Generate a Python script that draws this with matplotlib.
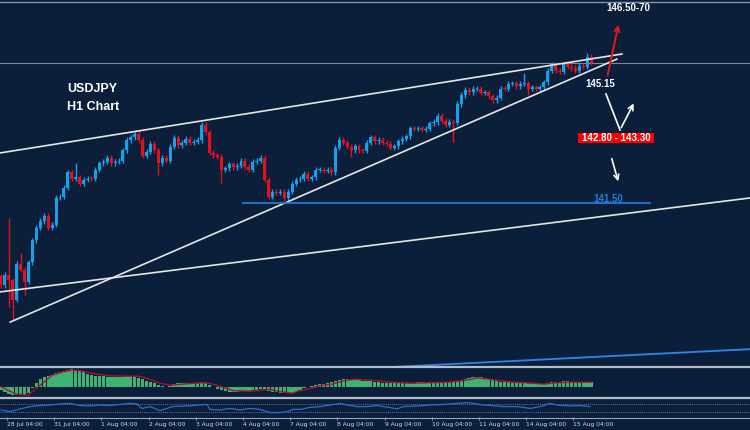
import matplotlib
matplotlib.use('Agg')
import matplotlib.pyplot as plt
from matplotlib.lines import Line2D
from matplotlib.patches import Rectangle, FancyArrowPatch
import numpy as np

# ---------------- data ----------------
day_labels = ['28 Jul 04:00', '31 Jul 04:00', '1 Aug 04:00', '2 Aug 04:00', '3 Aug 04:00',
              '4 Aug 04:00', '7 Aug 04:00', '8 Aug 04:00', '9 Aug 04:00', '10 Aug 04:00',
              '11 Aug 04:00', '14 Aug 04:00', '15 Aug 04:00']

first_open = 139.47
closes = [
    139.22, 139.50, 139.36, 138.81, 139.81, 139.64, 139.31, 139.86, 140.47, 140.81,
    141.00, 141.14, 140.81, 140.89, 141.64, 141.69, 141.92, 142.36, 142.19, 142.22,
    142.03, 142.14, 142.19, 142.17, 142.42, 142.61, 142.64, 142.75, 142.61, 142.64,
    142.69, 142.97, 143.25, 143.33, 143.42, 143.25, 142.81, 142.92, 143.14, 142.97,
    142.61, 142.75, 142.69, 143.06, 143.31, 143.11, 143.19, 143.28, 143.17, 143.20,
    143.25, 143.69, 143.47, 142.89, 142.83, 142.78, 142.42, 142.47, 142.58, 142.50,
    142.53, 142.69, 142.50, 142.44, 142.64, 142.69, 142.75, 142.14, 141.69, 141.81,
    141.78, 141.81, 141.64, 141.81, 142.03, 142.14, 142.19, 142.31, 142.19, 142.22,
    142.42, 142.44, 142.39, 142.42, 142.36, 143.03, 143.25, 143.19, 143.06, 142.97,
    143.08, 142.97, 142.95, 143.17, 143.33, 143.22, 143.25, 143.19, 143.14, 143.03,
    143.08, 143.22, 143.28, 143.36, 143.58, 143.56, 143.58, 143.53, 143.56, 143.72,
    143.75, 143.94, 143.78, 143.69, 143.75, 143.73, 144.25, 144.50, 144.64, 144.58,
    144.67, 144.69, 144.56, 144.58, 144.47, 144.36, 144.42, 144.69, 144.67, 144.81,
    144.83, 144.75, 144.81, 144.83, 144.69, 144.72, 144.69, 144.72, 144.86, 145.19,
    145.36, 145.19, 145.14, 145.36, 145.28, 145.25, 145.19, 145.31, 145.28, 145.56,
    145.39]

spike_hi_idx = [2, 5, 19, 51, 111, 133, 149]
spike_hi = [141.08, 140.11, 142.61, 143.75, 144.00, 145.11, 145.67]
spike_lo_idx = [2, 3, 6, 40, 56, 72, 89, 115, 134, 137]
spike_lo = [138.61, 138.25, 138.94, 142.28, 142.06, 141.56, 142.78, 143.19, 144.50, 144.58]

macd_hist = [
    -0.06, -0.10, -0.14, -0.17, -0.17, -0.17, -0.16, -0.12, -0.02, 0.08,
    0.15, 0.19, 0.22, 0.24, 0.27, 0.29, 0.31, 0.34, 0.35, 0.34,
    0.32, 0.29, 0.26, 0.24, 0.22, 0.21, 0.21, 0.20, 0.20, 0.20,
    0.20, 0.20, 0.21, 0.21, 0.20, 0.18, 0.15, 0.12, 0.10, 0.07,
    0.03, 0.01, -0.01, 0.02, 0.05, 0.07, 0.08, 0.08, 0.08, 0.08,
    0.08, 0.09, 0.08, 0.03, -0.01, -0.04, -0.07, -0.09, -0.10, -0.10,
    -0.10, -0.09, -0.09, -0.08, -0.07, -0.06, -0.04, -0.06, -0.09, -0.10,
    -0.11, -0.12, -0.13, -0.13, -0.12, -0.10, -0.06, -0.03, -0.01, 0.02,
    0.04, 0.05, 0.06, 0.08, 0.09, 0.11, 0.14, 0.15, 0.15, 0.14,
    0.14, 0.13, 0.12, 0.11, 0.11, 0.10, 0.09, 0.08, 0.08, 0.07,
    0.07, 0.07, 0.07, 0.07, 0.08, 0.08, 0.09, 0.09, 0.08, 0.08,
    0.09, 0.09, 0.09, 0.09, 0.10, 0.10, 0.12, 0.13, 0.15, 0.17,
    0.19, 0.20, 0.19, 0.17, 0.15, 0.13, 0.12, 0.10, 0.09, 0.09,
    0.08, 0.08, 0.08, 0.08, 0.07, 0.07, 0.06, 0.05, 0.06, 0.08,
    0.10, 0.10, 0.10, 0.11, 0.11, 0.10, 0.10, 0.10, 0.09, 0.10,
    0.09]

signal_k = [0, 2, 4, 7, 8, 11, 13, 16, 18, 20, 23, 27, 32, 35, 37, 40, 43, 46, 51, 53,
            56, 59, 64, 68, 71, 74, 76, 79, 81, 84, 87, 90, 94, 99, 104, 109, 114, 119, 121, 124,
            129, 135, 138, 141, 145, 150]
signal_v = [0.00, -0.08, -0.15, -0.17, -0.10, 0.10, 0.23, 0.30, 0.33, 0.32,
            0.27, 0.22, 0.21, 0.21, 0.17, 0.08, 0.03, 0.05, 0.08, 0.07,
            0.00, -0.08, -0.09, -0.05, -0.10, -0.13, -0.08, -0.03, 0.02, 0.05,
            0.12, 0.15, 0.13, 0.09, 0.07, 0.08, 0.09, 0.14, 0.18, 0.15,
            0.10, 0.07, 0.05, 0.08, 0.09, 0.09]

rsi_k = [0, 2.3, 4.8, 7.4, 9.9, 12.5, 15, 17.5, 20, 22.6, 25.2, 27.7, 30.2, 32.8, 34.6, 35.8,
         37.9, 40.4, 42.2, 43.7, 47.3, 50.6, 52.4, 53.1, 55.7, 58.2, 60.8, 63.3, 65.8, 67.6,
         68.4, 70.9, 72.7, 74.2, 76, 78.5, 81.1, 83.6, 86.2, 88, 90.5, 93, 95.6, 98.9, 100.7,
         102.2, 105.7, 109, 112.4, 115.9, 118.5, 120, 122.5, 125, 127.6, 131.2, 134.5, 137,
         139.6, 141.3, 144.6, 147.2, 149.7]
rsi_v = [40, 32, 45, 57, 62, 65, 70, 73, 63, 60, 65, 62, 68, 73, 70, 48,
         57, 37, 48, 57, 60, 65, 68, 43, 40, 48, 40, 48, 43, 32,
         27, 27, 32, 43, 43, 53, 57, 65, 73, 65, 57, 57, 62, 52, 45,
         57, 60, 65, 68, 73, 77, 73, 65, 62, 57, 57, 48, 57,
         73, 65, 60, 62, 57]

# trend lines (candle index, price)
upper_line = [(-0.25, 142.89), (157.9, 145.64)]
wedge_line = [(2.29, 138.19), (156.6, 145.50)]
long_line = [(-0.25, 139.03), (190.4, 141.64)]
blue_line = [(95.1, 136.92), (190.4, 137.44)]
support_level = 141.50
support_span = (61.3, 165.2)
bid_level = 145.39
top_level = 147.08

# ---------------- style ----------------
BG = '#0b1f3b'
BULL = '#1aa0ea'
BEAR = '#e5121c'
W, H = 750, 430
XLIM = (-0.254, 190.39)
FONT = 'Liberation Sans'

fig = plt.figure(figsize=(7.5, 4.3), dpi=100)
fig.patch.set_facecolor(BG)

def fx(x):
    return x / W

def fy(y):
    return 1 - y / H

# main price panel
ax = fig.add_axes([0, (H - 366) / H, 1, 366 / H])
ax.set_facecolor(BG)
ax.set_xlim(*XLIM)
ax.set_ylim(136.972, 147.139)
ax.axis('off')

c = np.array(closes)
o = np.concatenate([[first_open], c[:-1]])
kk = np.arange(len(c))
hi = np.maximum(o, c) + 0.07
lo = np.minimum(o, c) - 0.07
for i, v in zip(spike_hi_idx, spike_hi):
    hi[i] = v
for i, v in zip(spike_lo_idx, spike_lo):
    lo[i] = v
cols = np.where(c >= o, BULL, BEAR)

ax.axhline(top_level, color='#8791a3', lw=1.0)
ax.axhline(bid_level, color='#7c879a', lw=0.8)

ax.vlines(kk, lo, hi, colors=cols, lw=1.0)
ax.bar(kk, np.maximum(np.abs(c - o), 0.04), bottom=np.minimum(o, c) - 0.01, width=0.75,
       color=cols, linewidth=0)

for ln in (upper_line, wedge_line, long_line):
    ax.plot([ln[0][0], ln[1][0]], [ln[0][1], ln[1][1]], color='#e6e6e6', lw=1.2,
            solid_capstyle='round')
ax.plot([blue_line[0][0], blue_line[1][0]], [blue_line[0][1], blue_line[1][1]],
        color='#2f86e8', lw=1.3)
ax.hlines(support_level, support_span[0], support_span[1], color='#1f78d8', lw=1.3)

# MACD panel
axm = fig.add_axes([0, 34 / H, 1, 27.5 / H])
axm.set_facecolor(BG)
axm.set_xlim(*XLIM)
axm.set_ylim(-0.186, 0.364)
axm.axis('off')
axm.bar(np.arange(len(macd_hist)), macd_hist, width=0.85, color='#3cb371', linewidth=0)
axm.plot(signal_k, signal_v, color='#b0102a', lw=1.0)

# oscillator panel
axr = fig.add_axes([0, 13 / H, 1, 18 / H])
axr.set_facecolor(BG)
axr.set_xlim(*XLIM)
axr.set_ylim(5, 95)
axr.set_frame_on(False)
axr.set_yticks([])
axr.axhline(70, color='#8a96a8', lw=0.6, ls=(0, (1, 1.5)))
axr.axhline(30, color='#8a96a8', lw=0.6, ls=(0, (1, 1.5)))
axr.plot(rsi_k, rsi_v, color='#2a6fd0', lw=0.9)
label_k = 1.5 + 12 * np.arange(len(day_labels))
axr.set_xticks(label_k)
axr.set_xticklabels(day_labels, ha='left', fontsize=4.3, color='#d5dbe4',
                    family='DejaVu Sans')
axr.tick_params(axis='x', length=2.5, width=0.6, color='#aab2be', pad=1.2)

# separators
for yy, lw, col in [(367, 1.6, '#b4bcc8'), (397.5, 1.6, '#b4bcc8'), (418, 0.8, '#9aa4b2')]:
    fig.add_artist(Line2D([0, 1], [fy(yy), fy(yy)], color=col, lw=lw))

# texts
tk = dict(color='white', weight='bold', family=FONT)
fig.text(fx(67), fy(89), 'USDJPY', fontsize=9, ha='left', va='center', **tk)
fig.text(fx(67), fy(107), 'H1 Chart', fontsize=9, ha='left', va='center', **tk)
fig.text(fx(628), fy(8), '146.50-70', fontsize=7, ha='center', va='center', **tk)
fig.text(fx(600), fy(84), '145.15', fontsize=7, ha='center', va='center', **tk)
fig.add_artist(Rectangle((fx(578), fy(143)), 76 / W, 10 / H, transform=fig.transFigure,
                         facecolor='#ff0000', edgecolor='none'))
fig.text(fx(616), fy(138), '142.80 - 143.30', fontsize=7, ha='center', va='center', **tk)
fig.text(fx(608), fy(199), '141.50', fontsize=7, ha='center', va='center',
         color='#1f7ee0', weight='bold', family=FONT)


def arrow(x0, y0, x1, y1, col, lw=1.3):
    fig.add_artist(FancyArrowPatch(
        (fx(x0), fy(y0)), (fx(x1), fy(y1)), transform=fig.transFigure,
        arrowstyle='->', mutation_scale=9, color=col, lw=lw))


arrow(607, 78, 619, 22, '#e01a1a', 1.4)
fig.add_artist(Line2D([fx(606), fx(620)], [fy(94), fy(130)], color='white', lw=1.2))
arrow(620, 130, 635, 101, 'white', 1.2)
arrow(611, 156, 619, 184, 'white', 1.2)

fig.savefig('out.png', dpi=100, facecolor=BG)
